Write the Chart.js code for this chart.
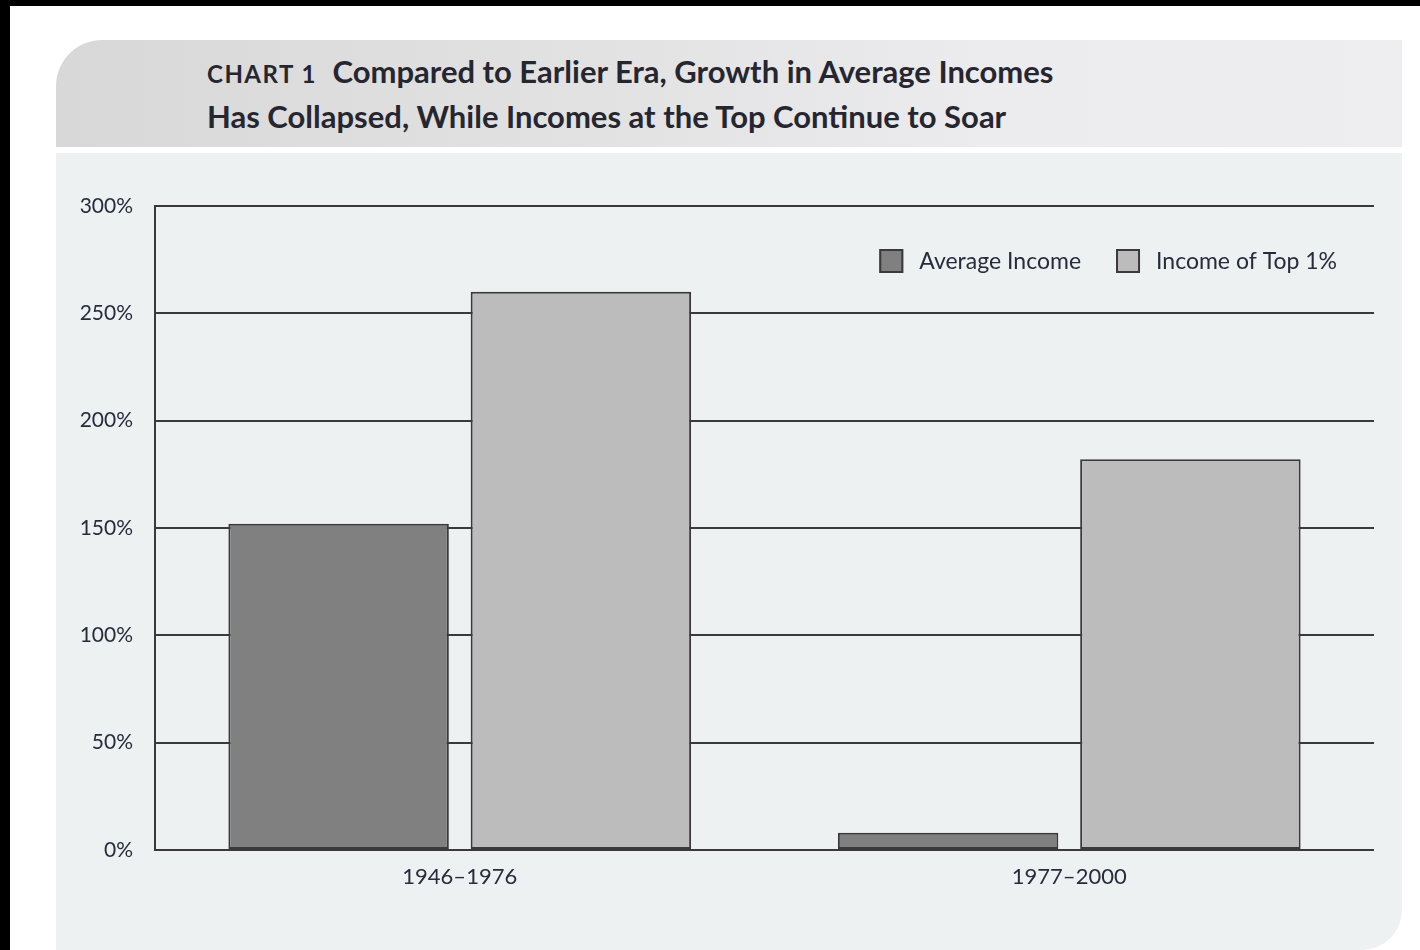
<!DOCTYPE html>
<html>
<head>
<meta charset="utf-8">
<script src="https://cdn.jsdelivr.net/npm/chart.js@4.4.1/dist/chart.umd.min.js"></script>
<style>
    html, body { margin: 0; padding: 0; background: #fff; }
    #page { position: relative; width: 1420px; height: 950px; overflow: hidden; background: #fff; }
    #edge-top { position: absolute; left: 0; top: 0; width: 1420px; height: 6px; background: #000; }
    #edge-left { position: absolute; left: 0; top: 0; width: 10px; height: 950px; background: #000; }
    #title-band {
        position: absolute; left: 56px; top: 40px; width: 1346px; height: 107px;
        border-top-left-radius: 46px;
        background: linear-gradient(to right, #d8d8d8 0%, #e2e2e3 40%, #ececee 70%, #eeeef0 100%);
    }
    #title {
        position: absolute; left: 151px; top: 10px;
        font-family: Lato, "Open Sans", sans-serif; font-weight: 700; font-size: 31px;
        line-height: 42px; color: #262630;
    }
    #title .tag { font-size: 24px; letter-spacing: 1.5px; font-weight: 700; margin-right: 8px; }
    #plot-panel {
        position: absolute; left: 56px; top: 153px; width: 1346px; height: 797px;
        background: #eef1f2; border-bottom-right-radius: 40px;
    }
    #chart-wrap { position: absolute; left: 55px; top: 153px; width: 1347px; height: 797px; }
</style>
</head>
<body>
<div id="page">
    <div id="edge-top"></div>
    <div id="edge-left"></div>
    <div id="title-band">
        <div id="title"><span class="tag">CHART 1</span> Compared to Earlier Era, Growth in Average Incomes<br>Has Collapsed, While Incomes at the Top Continue to Soar</div>
    </div>
    <div id="plot-panel"></div>
    <div id="chart-wrap"><canvas id="chart"></canvas></div>
</div>
<script>
const periods = ['1946\u20131976', '1977\u20132000'];
const averageIncome = [152, 8];
const topOnePercent = [260, 182];
const yTicks = [0, 50, 100, 150, 200, 250, 300];

const inkColor = '#262c3c';
const lineColor = '#3a3a3a';

// Legend drawn inside the plot area, top right
const insideLegend = {
    id: 'insideLegend',
    afterDraw(chart) {
        const { ctx, chartArea } = chart;
        const sets = chart.data.datasets;
        const box = 24, gap = 16, itemGap = 35;
        ctx.save();
        ctx.font = '23px Lato, "Open Sans", sans-serif';
        const widths = sets.map(d => ctx.measureText(d.label).width);
        let total = 0;
        widths.forEach((w, i) => { total += box + gap + w + (i < widths.length - 1 ? itemGap : 0); });
        let x = chartArea.right - 37 - total;
        const cy = chartArea.top + 55;
        sets.forEach((d, i) => {
            ctx.fillStyle = d.backgroundColor;
            ctx.fillRect(x, cy - box / 2, box, box);
            ctx.strokeStyle = lineColor;
            ctx.lineWidth = 2;
            ctx.strokeRect(x + 1, cy - box / 2 + 1, box - 2, box - 2);
            ctx.fillStyle = inkColor;
            ctx.textBaseline = 'middle';
            ctx.textAlign = 'left';
            ctx.fillText(d.label, x + box + gap, cy + 1);
            x += box + gap + widths[i] + itemGap;
        });
        ctx.restore();
    },
};

new Chart(document.getElementById('chart'), {
    type: 'bar',
    data: {
        labels: periods,
        datasets: [
            {
                label: 'Average Income',
                data: averageIncome,
                backgroundColor: '#808080',
                borderColor: lineColor,
                borderWidth: 2,
                borderSkipped: false,
                categoryPercentage: 0.795,
                barPercentage: 0.91,
            },
            {
                label: 'Income of Top 1%',
                data: topOnePercent,
                backgroundColor: '#bcbcbc',
                borderColor: lineColor,
                borderWidth: 2,
                borderSkipped: false,
                categoryPercentage: 0.795,
                barPercentage: 0.91,
            },
        ],
    },
    options: {
        responsive: true,
        maintainAspectRatio: false,
        animation: false,
        layout: { padding: { top: 53, right: 28, left: 0, bottom: 0 } },
        plugins: { legend: { display: false }, tooltip: { enabled: false } },
        scales: {
            x: {
                grid: { display: false },
                border: { display: false },
                ticks: {
                    padding: 6,
                    color: inkColor,
                    font: { family: 'Lato, "Open Sans", sans-serif', size: 22 },
                },
                afterFit: s => { s.height = 100; },
            },
            y: {
                min: 0,
                max: 300,
                afterBuildTicks: s => { s.ticks = yTicks.map(v => ({ value: v })); },
                grid: { color: lineColor, lineWidth: 2, drawTicks: false },
                border: { display: true, color: lineColor, width: 2 },
                ticks: {
                    padding: 22,
                    color: inkColor,
                    font: { family: 'Lato, "Open Sans", sans-serif', size: 21 },
                    callback: v => v + '%',
                },
                afterFit: s => { s.width = 100; },
            },
        },
    },
    plugins: [insideLegend],
});
</script>
</body>
</html>
